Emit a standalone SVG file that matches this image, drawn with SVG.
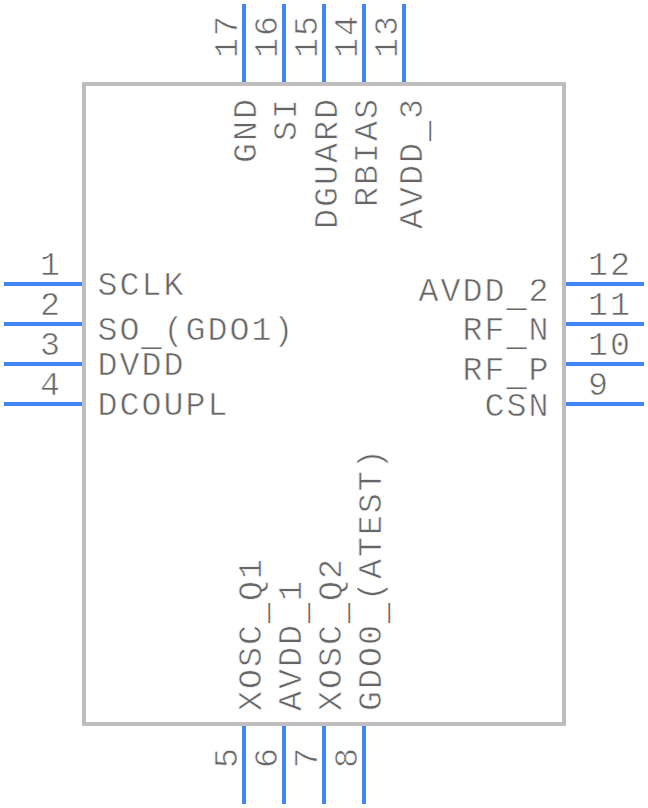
<svg xmlns="http://www.w3.org/2000/svg" width="648" height="808" viewBox="0 0 648 808">
<style>
text{font-family:"Liberation Mono","DejaVu Sans Mono",monospace;font-size:33.3px;letter-spacing:2px;fill:#666;stroke:#fff;stroke-width:.6px}
.e{text-anchor:end}
.u{stroke:none}
.p{stroke:#4285f4;stroke-width:4;stroke-linecap:butt;fill:none}
.b{fill:#fff;stroke:#bdbdbd;stroke-width:4}
</style>
<rect width="648" height="808" fill="#fff"/>
<g id="body"><rect class="b" x="84" y="84" width="480" height="640"/></g>
<g id="connectors">
<path class="p" d="M4 284H82M4 324H82M4 364H82M4 404H82"/>
<path class="p" d="M566 284H644M566 324H644M566 364H644M566 404H644"/>
<path class="p" d="M244 4V82M284 4V82M324 4V82M364 4V82M404 4V82"/>
<path class="p" d="M244 726V804M284 726V804M324 726V804M364 726V804"/>
</g>
<g id="pin-1"><text class="e" x="62" y="275">1</text><text x="97.500" y="295">SCLK</text></g>
<g id="pin-2"><text class="e" x="62" y="315">2</text><text x="97.500" y="340">SO<tspan class="u" dy="5">_</tspan><tspan dy="-5">(GDO1)</tspan></text></g>
<g id="pin-3"><text class="e" x="62" y="355">3</text><text x="97.500" y="375">DVDD</text></g>
<g id="pin-4"><text class="e" x="62" y="395">4</text><text x="97.500" y="415">DCOUPL</text></g>
<g id="pin-12"><text x="588" y="275">12</text><text class="e" x="550.500" y="301">AVDD<tspan class="u" dy="5">_</tspan><tspan dy="-5">2</tspan></text></g>
<g id="pin-11"><text x="588" y="315">11</text><text class="e" x="550.500" y="340">RF<tspan class="u" dy="5">_</tspan><tspan dy="-5">N</tspan></text></g>
<g id="pin-10"><text x="588" y="355">10</text><text class="e" x="550.500" y="380">RF<tspan class="u" dy="5">_</tspan><tspan dy="-5">P</tspan></text></g>
<g id="pin-9"><text x="588" y="395">9</text><text class="e" x="550.500" y="416">CSN</text></g>
<g id="pin-17"><text transform="translate(237 58) rotate(-90)">17</text><text class="e" transform="translate(256 97) rotate(-90)">GND</text></g>
<g id="pin-16"><text transform="translate(277 58) rotate(-90)">16</text><text class="e" transform="translate(296 97) rotate(-90)">SI</text></g>
<g id="pin-15"><text transform="translate(317 58) rotate(-90)">15</text><text class="e" transform="translate(337 97) rotate(-90)">DGUARD</text></g>
<g id="pin-14"><text transform="translate(357 58) rotate(-90)">14</text><text class="e" transform="translate(377 97) rotate(-90)">RBIAS</text></g>
<g id="pin-13"><text transform="translate(397 58) rotate(-90)">13</text><text class="e" transform="translate(422 97) rotate(-90)">AVDD<tspan class="u" dy="5">_</tspan><tspan dy="-5">3</tspan></text></g>
<g id="pin-5"><text transform="translate(237 768) rotate(-90)">5</text><text transform="translate(261 711) rotate(-90)">XOSC<tspan class="u" dy="5">_</tspan><tspan dy="-5">Q1</tspan></text></g>
<g id="pin-6"><text transform="translate(277 768) rotate(-90)">6</text><text transform="translate(301 711) rotate(-90)">AVDD<tspan class="u" dy="5">_</tspan><tspan dy="-5">1</tspan></text></g>
<g id="pin-7"><text transform="translate(317 768) rotate(-90)">7</text><text transform="translate(341 711) rotate(-90)">XOSC<tspan class="u" dy="5">_</tspan><tspan dy="-5">Q2</tspan></text></g>
<g id="pin-8"><text transform="translate(357 768) rotate(-90)">8</text><text transform="translate(381 711) rotate(-90)">GDO0<tspan class="u" dy="5">_</tspan><tspan dy="-5">(ATEST)</tspan></text></g>
</svg>
